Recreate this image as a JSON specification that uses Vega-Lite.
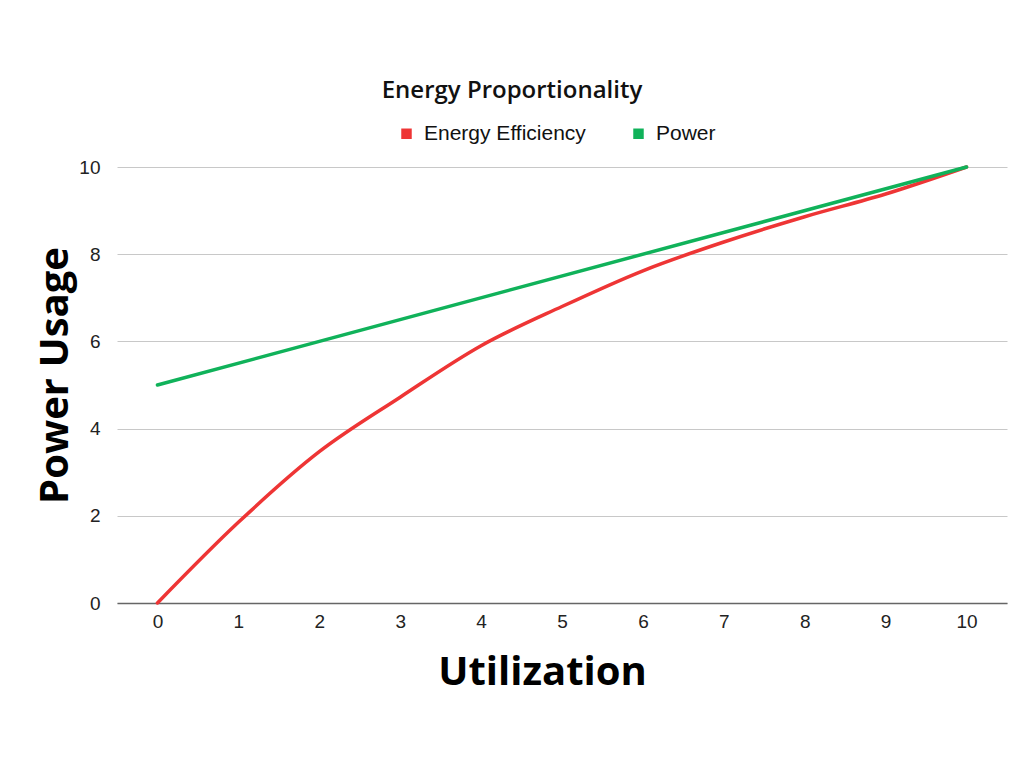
{
  "$schema": "https://vega.github.io/schema/vega-lite/v6.json",
  "autosize": "none",
  "padding": {"left": 117, "top": 167, "right": 17, "bottom": 165},
  "width": 890,
  "height": 436,
  "background": "#ffffff",
  "title": {
    "text": "Energy Proportionality",
    "font": "Open Sans",
    "fontSize": 24,
    "fontWeight": 600,
    "color": "#111111",
    "anchor": "middle",
    "dx": -50,
    "offset": 20
  },
  "data": {
    "values": [
      {"utilization": 0, "usage": 0, "series": "Energy Efficiency"},
      {"utilization": 1, "usage": 1.85, "series": "Energy Efficiency"},
      {"utilization": 2, "usage": 3.47, "series": "Energy Efficiency"},
      {"utilization": 3, "usage": 4.72, "series": "Energy Efficiency"},
      {"utilization": 4, "usage": 5.9, "series": "Energy Efficiency"},
      {"utilization": 5, "usage": 6.8, "series": "Energy Efficiency"},
      {"utilization": 6, "usage": 7.62, "series": "Energy Efficiency"},
      {"utilization": 7, "usage": 8.28, "series": "Energy Efficiency"},
      {"utilization": 8, "usage": 8.86, "series": "Energy Efficiency"},
      {"utilization": 9, "usage": 9.38, "series": "Energy Efficiency"},
      {"utilization": 10, "usage": 10, "series": "Energy Efficiency"},
      {"utilization": 0, "usage": 5, "series": "Power"},
      {"utilization": 10, "usage": 10, "series": "Power"}
    ]
  },
  "mark": {"type": "line", "strokeWidth": 3.5, "interpolate": "monotone", "strokeCap": "round"},
  "encoding": {
    "x": {
      "field": "utilization",
      "type": "quantitative",
      "scale": {"domain": [-0.5, 10.5], "nice": false, "zero": false},
      "axis": {
        "title": "Utilization",
        "titleFont": "Open Sans",
        "titleFontSize": 40,
        "titleFontWeight": "bold",
        "titleColor": "#000000",
        "titleX": 425,
        "titleY": 69,
        "titleAlign": "center",
        "titleBaseline": "middle",
        "values": [0, 1, 2, 3, 4, 5, 6, 7, 8, 9, 10],
        "grid": false,
        "ticks": false,
        "domainColor": "#666666",
        "domainWidth": 1.5,
        "labelFont": "Liberation Sans",
        "labelFontSize": 19,
        "labelColor": "#222222",
        "labelPadding": 9
      }
    },
    "y": {
      "field": "usage",
      "type": "quantitative",
      "scale": {"domain": [0, 10], "nice": false},
      "axis": {
        "title": "Power Usage",
        "titleFont": "Open Sans",
        "titleFontSize": 40,
        "titleFontWeight": "bold",
        "titleColor": "#000000",
        "titleX": -62,
        "titleY": 208,
        "titleAlign": "center",
        "titleBaseline": "middle",
        "titleAngle": -90,
        "values": [0, 2, 4, 6, 8, 10],
        "grid": true,
        "gridColor": "#c8c8c8",
        "gridWidth": 1,
        "domain": false,
        "ticks": false,
        "labelFont": "Liberation Sans",
        "labelFontSize": 19,
        "labelColor": "#222222",
        "labelPadding": 17
      }
    },
    "color": {
      "field": "series",
      "type": "nominal",
      "scale": {"domain": ["Energy Efficiency", "Power"], "range": ["#ee3535", "#10b25a"]},
      "legend": {
        "title": null,
        "orient": "none",
        "direction": "horizontal",
        "legendX": 279,
        "legendY": -44,
        "symbolType": "square",
        "symbolSize": 110,
        "symbolStrokeWidth": 0,
        "labelFont": "Liberation Sans",
        "labelFontSize": 21,
        "labelColor": "#111111",
        "labelLimit": 300,
        "columnPadding": 42,
        "labelOffset": 7,
        "encode": {
          "symbols": {
            "update": {
              "fill": {"scale": "color", "field": "value"},
              "fillOpacity": {"value": 1}
            }
          }
        }
      }
    }
  },
  "config": {
    "view": {"stroke": null}
  }
}
